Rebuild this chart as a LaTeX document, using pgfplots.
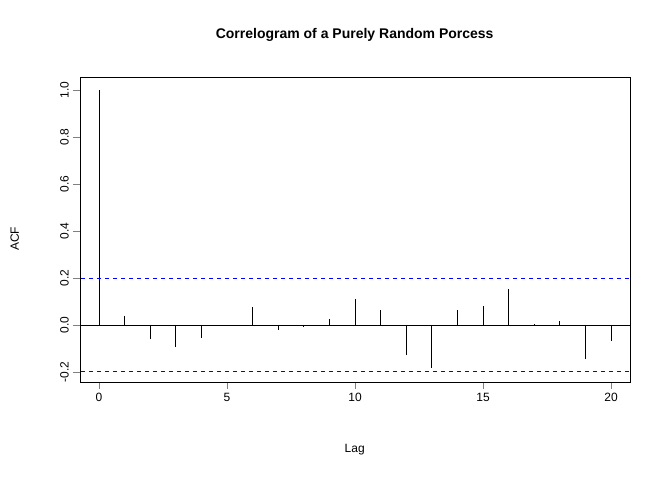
\documentclass[border=0pt]{standalone}
\usepackage{pgfplots}
\pgfplotsset{compat=1.18}
\usepackage{fontspec}
\setmainfont{Liberation Sans}
\begin{document}
\begin{tikzpicture}
\path (0pt,0pt) rectangle (504pt,360pt);
\begin{axis}[at={(60pt,73.5pt)},anchor=south west,scale only axis,
 width=412.5pt,height=228.75pt,
 xmin=-0.74,xmax=20.74,ymin=-0.243,ymax=1.055,
 xtick={0,5,10,15,20},ytick={-0.2,0,0.2,0.4,0.6,0.8,1.0},
 yticklabel style={rotate=90,anchor=south,/pgf/number format/fixed,/pgf/number format/fixed zerofill,/pgf/number format/precision=1},
 tick align=outside,tick pos=left,major tick length=5pt,
 /pgf/number format/assume math mode=true,
 ticklabel style={font=\fontsize{9}{10}\selectfont},
 axis line style={black},
]
\addplot[ycomb,black,line width=0.6pt] coordinates {
(0,1) (1,0.038) (2,-0.06) (3,-0.095) (4,-0.055) (5,-0.005) (6,0.075) (7,-0.02) (8,-0.01) (9,0.025) (10,0.11) (11,0.063) (12,-0.13) (13,-0.185) (14,0.063) (15,0.08) (16,0.152) (17,0.002) (18,0.015) (19,-0.145) (20,-0.07)};
\addplot[black,line width=0.6pt] coordinates {(-1,0) (21,0)};
\addplot[color=blue,dashed,line width=0.6pt] coordinates {(-1,0.196) (21,0.196)};
\addplot[color=blue,dashed,line width=0.6pt] coordinates {(-1,-0.196) (21,-0.196)};
\end{axis}
\node at (266pt,333.75pt) {\fontsize{10.5}{12}\selectfont\bfseries Correlogram of a Purely Random Porcess};
\node at (266pt,22.5pt) {\fontsize{9}{10}\selectfont Lag};
\node[rotate=90] at (11pt,181pt) {\fontsize{9}{10}\selectfont ACF};
\end{tikzpicture}
\end{document}
